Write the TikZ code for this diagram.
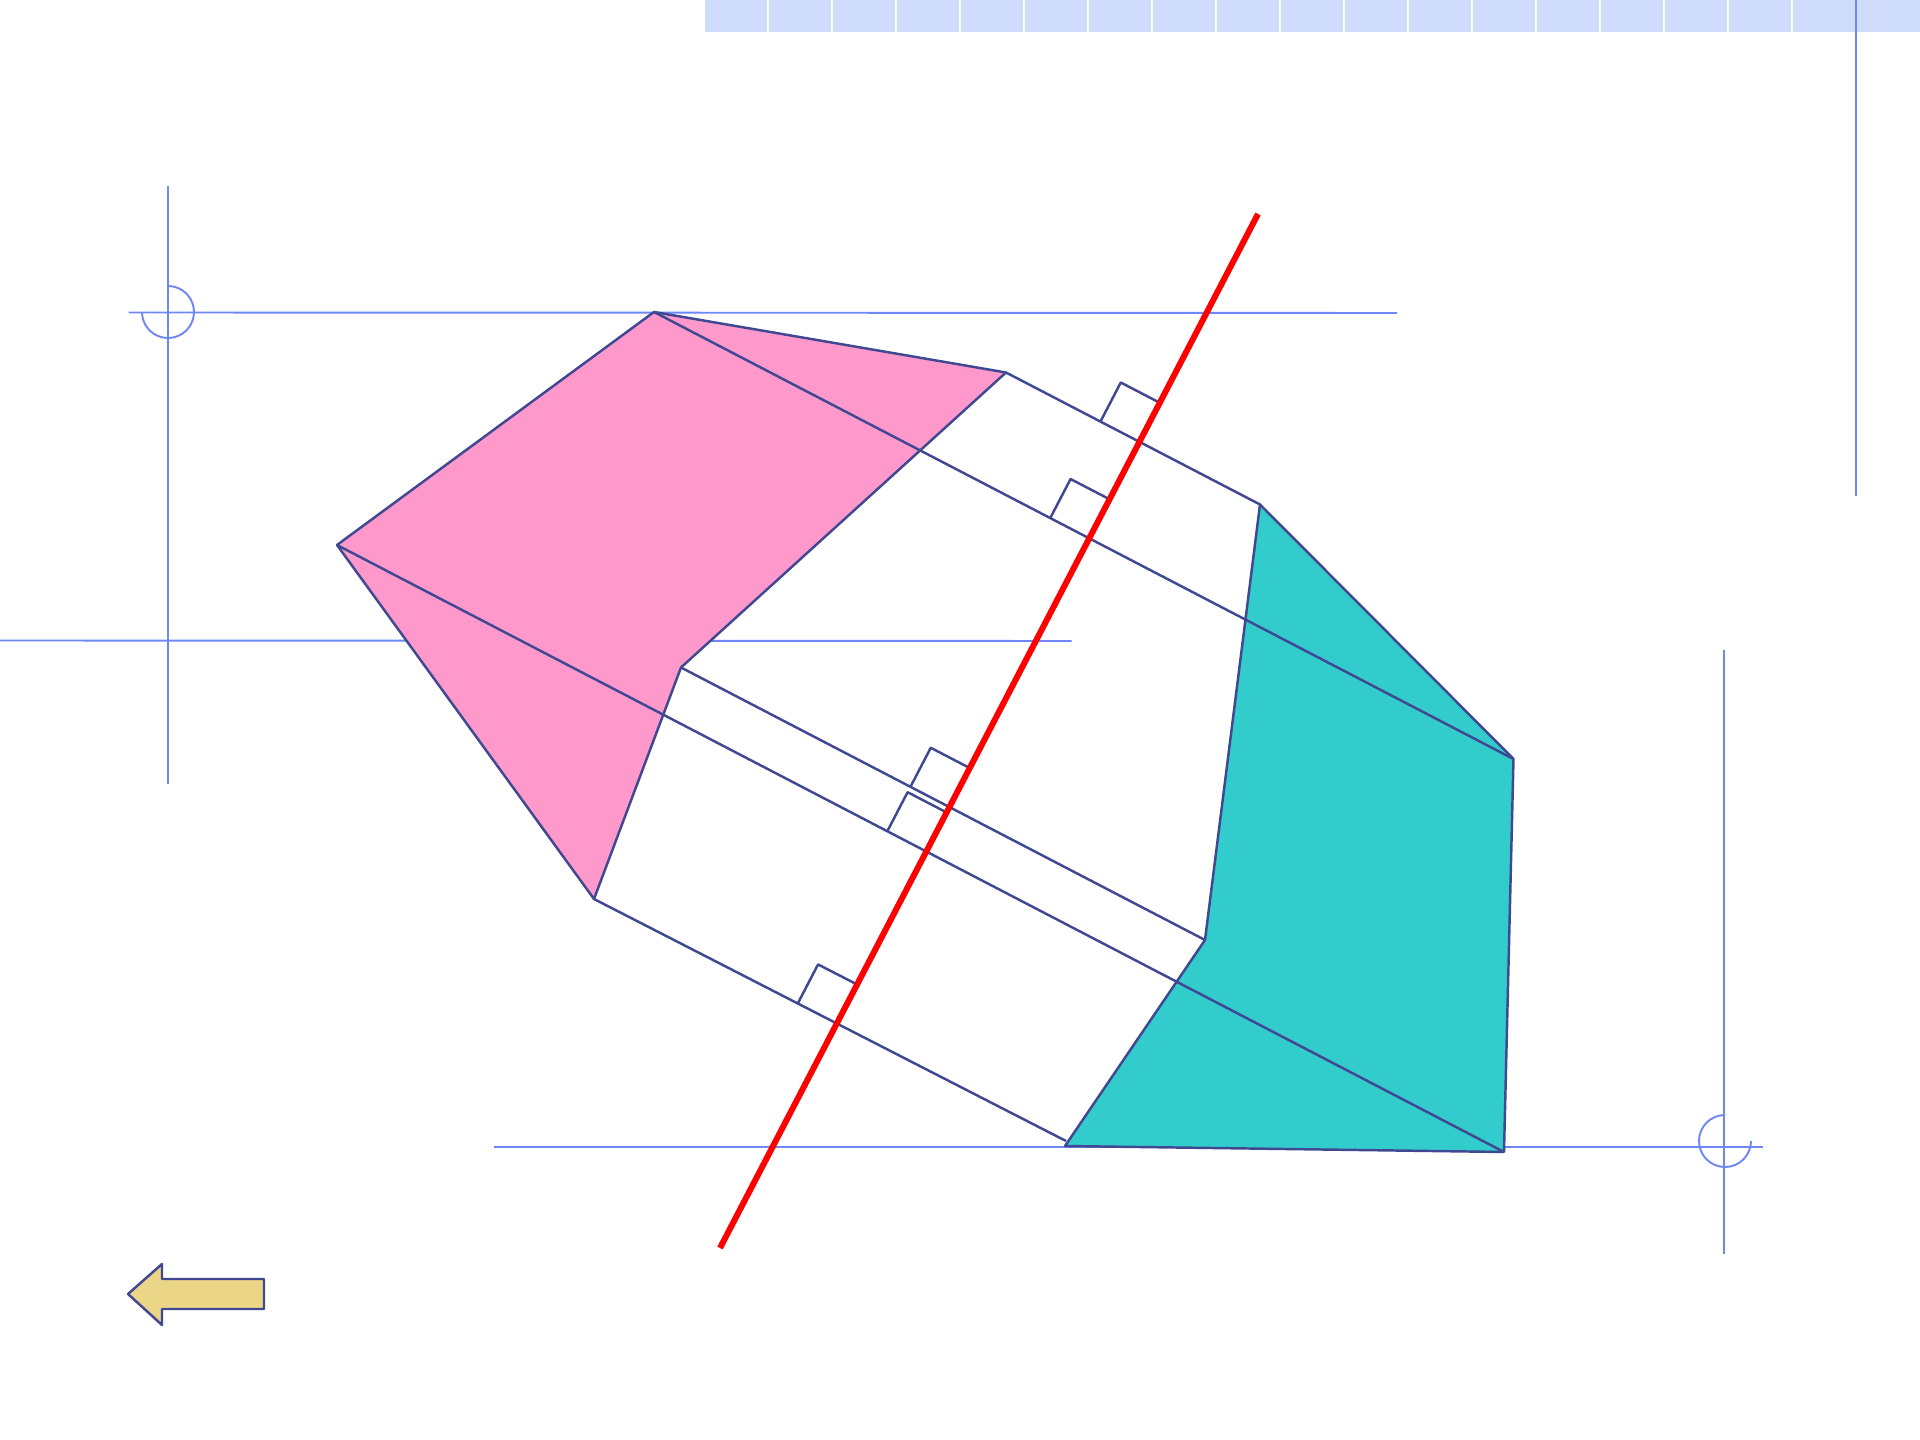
\documentclass[tikz,border=0pt]{standalone}
\usetikzlibrary{calc}
\definecolor{guide}{RGB}{110,135,245}
\definecolor{edgeblue}{RGB}{63,72,145}
\definecolor{barblue}{RGB}{207,220,252}
\definecolor{pinkfill}{RGB}{255,153,204}
\definecolor{tealfill}{RGB}{51,204,204}
\definecolor{arrowc}{RGB}{235,213,135}
\begin{document}
\begin{tikzpicture}[x=0.01cm,y=-0.01cm,
  guideline/.style={draw=guide, line width=0.55pt},
  edge/.style={draw=edgeblue, line width=0.7pt, line join=round},
  redline/.style={draw=red, line width=1.7pt},
  barcell/.style={fill=barblue, draw=none}]
\useasboundingbox (0,0) rectangle (1920,1440);
% top bar
\foreach \k in {0,...,17} { \fill[barcell] ({705+64*\k},0) rectangle ({767+64*\k},32); }
\fill[barcell] (1793,0) rectangle (1920,32);
% guides
\draw[guideline] (1856,0) -- (1856,496);
\draw[guideline] (168,186) -- (168,784);
\draw[guideline] (128.6,312.5) -- (1397,313);
\draw[guideline] (0,640.5) -- (1071.5,641);
\draw[guideline] (493.5,1147) -- (1763,1147);
\draw[guideline] (1724,650) -- (1724,1254);
\draw[guideline] (168,286) arc[start angle=90, end angle=-180, radius=0.26cm];
\draw[guideline] (1725,1115) arc[start angle=90, end angle=360, radius=0.26cm];
% vertices
\coordinate (P1) at (654,312);
\coordinate (P2) at (1006,372.5);
\coordinate (P3) at (681,667.5);
\coordinate (P4) at (594,899);
\coordinate (P5) at (337,545);
\coordinate (T1) at (1260,504.5);
\coordinate (T2) at (1513.5,759);
\coordinate (T3) at (1504,1152);
\coordinate (T4) at (1065,1146);
\coordinate (T5) at (1205,940);
\coordinate (L5e) at (1066,1141);
\coordinate (R1) at (1258,214);
\coordinate (R2) at (720,1248);
% faces
\draw[edge, fill=pinkfill] (P1) -- (P2) -- (P3) -- (P4) -- (P5) -- cycle;
\draw[edge, fill=tealfill] (T1) -- (T2) -- (T3) -- (T4) -- (T5) -- cycle;
% edges
\draw[edge] (P1) -- (T2);
\draw[edge] (P5) -- (T3);
\draw[edge] (P2) -- (T1);
\draw[edge] (P3) -- (T5);
\draw[edge] (P4) -- (L5e);
% right-angle marks
\foreach \a/\b/\n in {P2/T1/1, P1/T2/2, P3/T5/3, P5/T3/4, P4/L5e/5} {
  \coordinate (X\n) at (intersection of R1--R2 and \a--\b);
  \coordinate (Xa\n) at ($(X\n)!0.44cm!(\a)$);
  \coordinate (Xb\n) at ($(X\n)!0.44cm!(R1)$);
  \draw[edge] (Xa\n) -- ($(Xa\n)+(Xb\n)-(X\n)$) -- (Xb\n);
}
% red axis
\draw[redline] (R1) -- (R2);
% back arrow
\draw[edge, fill=arrowc] (128,1294) -- (162,1264) -- (162,1279) -- (264,1279) -- (264,1309) -- (162,1309) -- (162,1325) -- cycle;
\end{tikzpicture}
\end{document}
